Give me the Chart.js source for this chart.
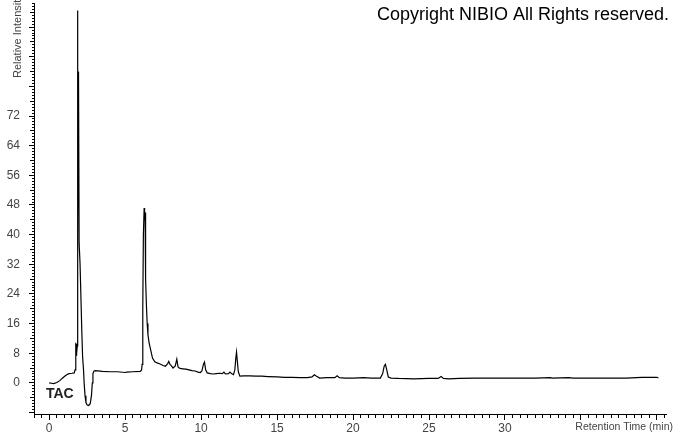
<!DOCTYPE html>
<html>
<head>
<meta charset="utf-8">
<title>TAC chromatogram</title>
<script src="https://cdn.jsdelivr.net/npm/chart.js@4/dist/chart.umd.min.js"></script>
<style>
  html, body { margin: 0; padding: 0; background: #fff; }
  #wrap { width: 674px; height: 434px; }
</style>
</head>
<body>
<div id="wrap"><canvas id="chart" width="674" height="434"></canvas></div>
<script>
// Retention time (min)
const retentionTime = [
  0, 0.15, 0.3, 0.5, 0.7, 0.85, 1.0, 1.15, 1.3, 1.5, 1.65,
  1.7, 1.74, 1.76, 1.77, 1.79, 1.82, 1.85, 1.86, 1.89, 1.91, 1.93, 1.97,
  2.03, 2.15, 2.2, 2.26, 2.3, 2.36, 2.42, 2.5, 2.6, 2.7, 2.78, 2.84, 2.88, 2.95,
  3.05, 3.5, 4.0, 4.5, 5.0, 5.1, 5.5, 6.0,
  6.08, 6.12, 6.16, 6.2, 6.25, 6.28, 6.31, 6.33, 6.36, 6.4, 6.45, 6.5, 6.58, 6.68, 6.8, 6.95,
  7.1, 7.3, 7.5, 7.65, 7.8, 7.87, 7.95, 8.05, 8.15, 8.3, 8.4, 8.48, 8.6, 8.8,
  9.0, 9.2, 9.4, 9.6, 9.8, 9.95, 10.05, 10.15, 10.22, 10.3, 10.4, 10.6, 10.8,
  11.0, 11.2, 11.4, 11.5, 11.6, 11.8, 11.9, 12.0, 12.13, 12.22, 12.28, 12.33, 12.38, 12.45, 12.55,
  12.8, 13.2, 13.6, 14.0, 14.4, 15.0, 15.5, 16.0, 16.5, 17.0, 17.3, 17.45, 17.6, 17.8,
  18.3, 18.8, 18.95, 19.1, 19.5, 20.0, 20.7, 21.2, 21.8, 21.95, 22.05, 22.13, 22.22, 22.32, 22.5,
  23.0, 24.0, 25.0, 25.6, 25.8, 25.95, 26.3, 27.0, 28.0, 30.0, 32.0,
  33.0, 33.1, 34.2, 34.5, 36.0, 38.0, 39.0, 40.0, 40.1
];

// Relative intensity at each retention time
const intensity = [
  0, -0.1, -0.2, 0.1, 0.6, 1.2, 1.7, 2.2, 2.5, 2.6, 2.7,
  3.5, 6, 10.8, 7.5, 10.5, 8, 10, 100.5, 40, 83.8, 84, 37.7,
  32.3, 13.5, 7, 3.5, 0, -3.5, -5.3, -6.0, -6.1, -5.6, -3.5, 0, 2.5, 3.2,
  3.3, 3.1, 3.0, 3.0, 2.8, 2.9, 3.0, 3.1,
  3.5, 5, 20, 40, 47.2, 44, 46, 36, 28, 21, 16, 13, 10.7, 8.9, 6.7, 5.7,
  5.4, 5.1, 4.7, 4.5, 5.2, 5.8, 5.0, 4.6, 4.0, 4.6, 6.4, 4.3, 3.9, 3.8,
  3.7, 3.5, 3.3, 3.2, 2.9, 2.8, 3.2, 5, 5.6, 3.5, 2.7, 2.5, 2.4,
  2.5, 2.6, 2.5, 2.9, 2.4, 2.5, 2.9, 2.5, 2.2, 3.5, 6.5, 8.3, 6, 3.0, 1.8,
  1.9, 1.9, 1.8, 1.8, 1.7, 1.6, 1.5, 1.5, 1.4, 1.4, 1.6, 2.2, 1.8, 1.3,
  1.4, 1.4, 1.9, 1.4, 1.3, 1.3, 1.4, 1.3, 1.3, 2.5, 4.5, 5.0, 3.5, 1.6, 1.3,
  1.2, 1.1, 1.2, 1.2, 1.7, 1.2, 1.1, 1.2, 1.3, 1.3, 1.3,
  1.4, 1.3, 1.4, 1.3, 1.3, 1.3, 1.5, 1.5, 1.3
];

// Axis tick settings
const yLabelMax = 72;     // labels above this are hidden behind the axis title
const yMinorStep = 0.8;   // ten minor ticks per labelled step of 8
const xMinorStep = 0.5;   // ten minor ticks per labelled step of 5
const xLabelMax = 30;

const points = retentionTime.map((t, i) => ({ x: t, y: intensity[i] }));

const tickFont = { family: 'Liberation Sans, Arial, sans-serif', size: 12 };

// Draws the free-standing texts of the chromatogram
const textPlugin = {
  id: 'chromText',
  afterDraw(chart) {
    const ctx = chart.ctx;
    ctx.save();
    ctx.fillStyle = '#000';
    ctx.font = '18px "Liberation Sans", Arial, sans-serif';
    ctx.textAlign = 'right';
    ctx.textBaseline = 'alphabetic';
    ctx.fillText('Copyright NIBIO All Rights reserved.', 669, 20);

    ctx.fillStyle = '#222';
    ctx.font = 'bold 14px "Liberation Sans", Arial, sans-serif';
    ctx.textAlign = 'left';
    ctx.fillText('TAC', 46, 398);

    ctx.fillStyle = '#444';
    ctx.font = '10.5px "Liberation Sans", Arial, sans-serif';
    ctx.textAlign = 'right';
    ctx.textBaseline = 'middle';
    ctx.fillText('Retention Time (min)', 673, 427);

    ctx.font = '11px "Liberation Sans", Arial, sans-serif';
    ctx.translate(18, 78);
    ctx.rotate(-Math.PI / 2);
    ctx.textAlign = 'left';
    ctx.fillText('Relative Intensity', 0, 0);
    ctx.restore();
  }
};

new Chart(document.getElementById('chart'), {
  type: 'line',
  data: {
    datasets: [{
      label: 'TAC',
      data: points,
      borderColor: '#000',
      borderWidth: 1.2,
      pointRadius: 0,
      tension: 0,
      fill: false
    }]
  },
  options: {
    responsive: false,
    animation: false,
    devicePixelRatio: 1,
    layout: { padding: { top: 3, right: 8, left: 0, bottom: 0 } },
    plugins: {
      legend: { display: false },
      tooltip: { enabled: false }
    },
    scales: {
      x: {
        type: 'linear',
        min: -1,
        max: 40.6,
        afterBuildTicks: scale => {
          const ticks = [];
          for (let i = -2; i <= 81; i++) ticks.push({ value: i * xMinorStep });
          scale.ticks = ticks;
        },
        afterFit: scale => {
          scale.height = 20;
          scale.paddingLeft = 0;
          scale.paddingRight = 0;
        },
        ticks: {
          autoSkip: false,
          maxRotation: 0,
          padding: 1,
          color: '#444',
          font: tickFont,
          callback: (value) => {
            const i = Math.round(value / xMinorStep);
            return (i % 10 === 0 && value >= 0 && value <= xLabelMax) ? String(value) : '';
          }
        },
        grid: {
          drawOnChartArea: false,
          tickLength: 6,
          tickColor: '#000',
          tickBorderDash: ctx => {
            const i = Math.round(ctx.tick.value / xMinorStep);
            return i % 10 === 0 ? [] : [3, 100];
          }
        },
        border: { color: '#000', width: 1 }
      },
      y: {
        type: 'linear',
        min: -8.4,
        max: 102.5,
        afterBuildTicks: scale => {
          const ticks = [];
          for (let i = -10; i <= 128; i++) ticks.push({ value: i * yMinorStep });
          scale.ticks = ticks;
        },
        afterFit: scale => {
          scale.width = 34;
          scale.paddingTop = 0;
          scale.paddingBottom = 0;
        },
        ticks: {
          autoSkip: false,
          padding: 9,
          color: '#444',
          font: tickFont,
          callback: (value) => {
            const i = Math.round(value / yMinorStep);
            return (i % 10 === 0 && i >= 0 && i * 0.8 <= yLabelMax) ? String(Math.round(i * 0.8)) : '';
          }
        },
        grid: {
          drawOnChartArea: false,
          tickLength: 5,
          tickColor: '#000',
          tickBorderDash: ctx => {
            const i = Math.round(ctx.tick.value / yMinorStep);
            if (i % 10 === 0) return [];
            if (i % 5 === 0) return [0, 1, 4, 100];
            return [0, 3, 2, 100];
          }
        },
        border: { color: '#000', width: 1 }
      }
    }
  },
  plugins: [textPlugin]
});
</script>
</body>
</html>
